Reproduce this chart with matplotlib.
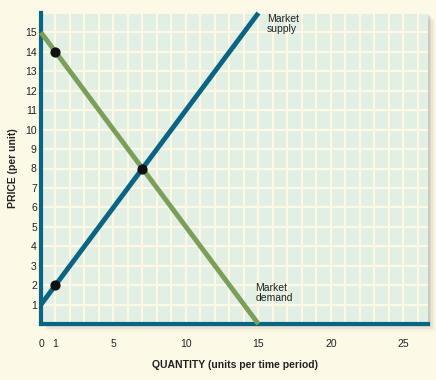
import matplotlib.pyplot as plt
from matplotlib.patches import Rectangle

# supply and demand schedules
supply_q = [0, 15]
supply_p = [1, 16]
demand_q = [0, 15]
demand_p = [15, 0]

# highlighted points
pts_q = [1, 7, 1]
pts_p = [14, 8, 2]

xticks = [0, 1, 5, 10, 15, 20, 25]
yticks = list(range(1, 16))

teal = '#0a6584'
green = '#7b9f5b'
bg = '#fdf9e7'
panel = '#e1efe5'
grid_c = '#fdf8e3'
txt = '#222222'

plt.rcParams['font.family'] = ['Liberation Sans', 'DejaVu Sans']

fig = plt.figure(figsize=(4.36, 3.80), dpi=100, facecolor=bg)
ax = fig.add_axes([41 / 436, 56 / 380, 387 / 436, 311 / 380])
ax.set_zorder(2)

# soft drop shadow behind the panel
for i, a in enumerate([0.07, 0.05, 0.035, 0.025, 0.015]):
    off = (i + 1) * 1.5
    fig.patches.append(Rectangle(((41 + off) / 436, (56 - off) / 380), 387 / 436, 311 / 380,
                                 transform=fig.transFigure, facecolor='black', alpha=a,
                                 edgecolor='none', zorder=0))

ax.set_facecolor(panel)
ax.set_xlim(0, 26.7)
ax.set_ylim(0, 16)

ax.set_xticks(xticks)
ax.set_xticklabels([str(t) for t in xticks])
ax.set_yticks(yticks)
ax.set_xticks(range(0, 27), minor=True)
ax.set_yticks(range(0, 17), minor=True)
ax.xaxis.remove_overlapping_locs = False
ax.yaxis.remove_overlapping_locs = False
ax.grid(True, which='both', color=grid_c, lw=1.6)
ax.set_axisbelow(True)
ax.tick_params(which='both', length=0)
ax.tick_params(labelsize=7.5, colors=txt)
ax.tick_params(axis='x', pad=11)
ax.tick_params(axis='y', pad=3)

for s in ['top', 'right']:
    ax.spines[s].set_visible(False)
for s in ['left', 'bottom']:
    ax.spines[s].set_color(teal)
    ax.spines[s].set_linewidth(3)

ax.plot(demand_q, demand_p, color=green, lw=3.5, solid_capstyle='butt', zorder=3, clip_on=False)
ax.plot(supply_q, supply_p, color=teal, lw=3.5, solid_capstyle='butt', zorder=4, clip_on=False)
ax.scatter(pts_q, pts_p, s=40, color='#111111', zorder=5)

ax.text(15.6, 15.95, 'Market\nsupply', fontsize=7.5, va='top', ha='left', color=txt, linespacing=0.95)
ax.text(14.8, 2.1, 'Market\ndemand', fontsize=7.5, va='top', ha='left', color=txt, linespacing=0.95)

ax.set_xlabel('QUANTITY (units per time period)', fontsize=7.5, fontweight='bold', color=txt, labelpad=8)
ax.set_ylabel('PRICE (per unit)', fontsize=7.5, fontweight='bold', color=txt, labelpad=5)

plt.savefig('out.png', dpi=100, facecolor=bg)
